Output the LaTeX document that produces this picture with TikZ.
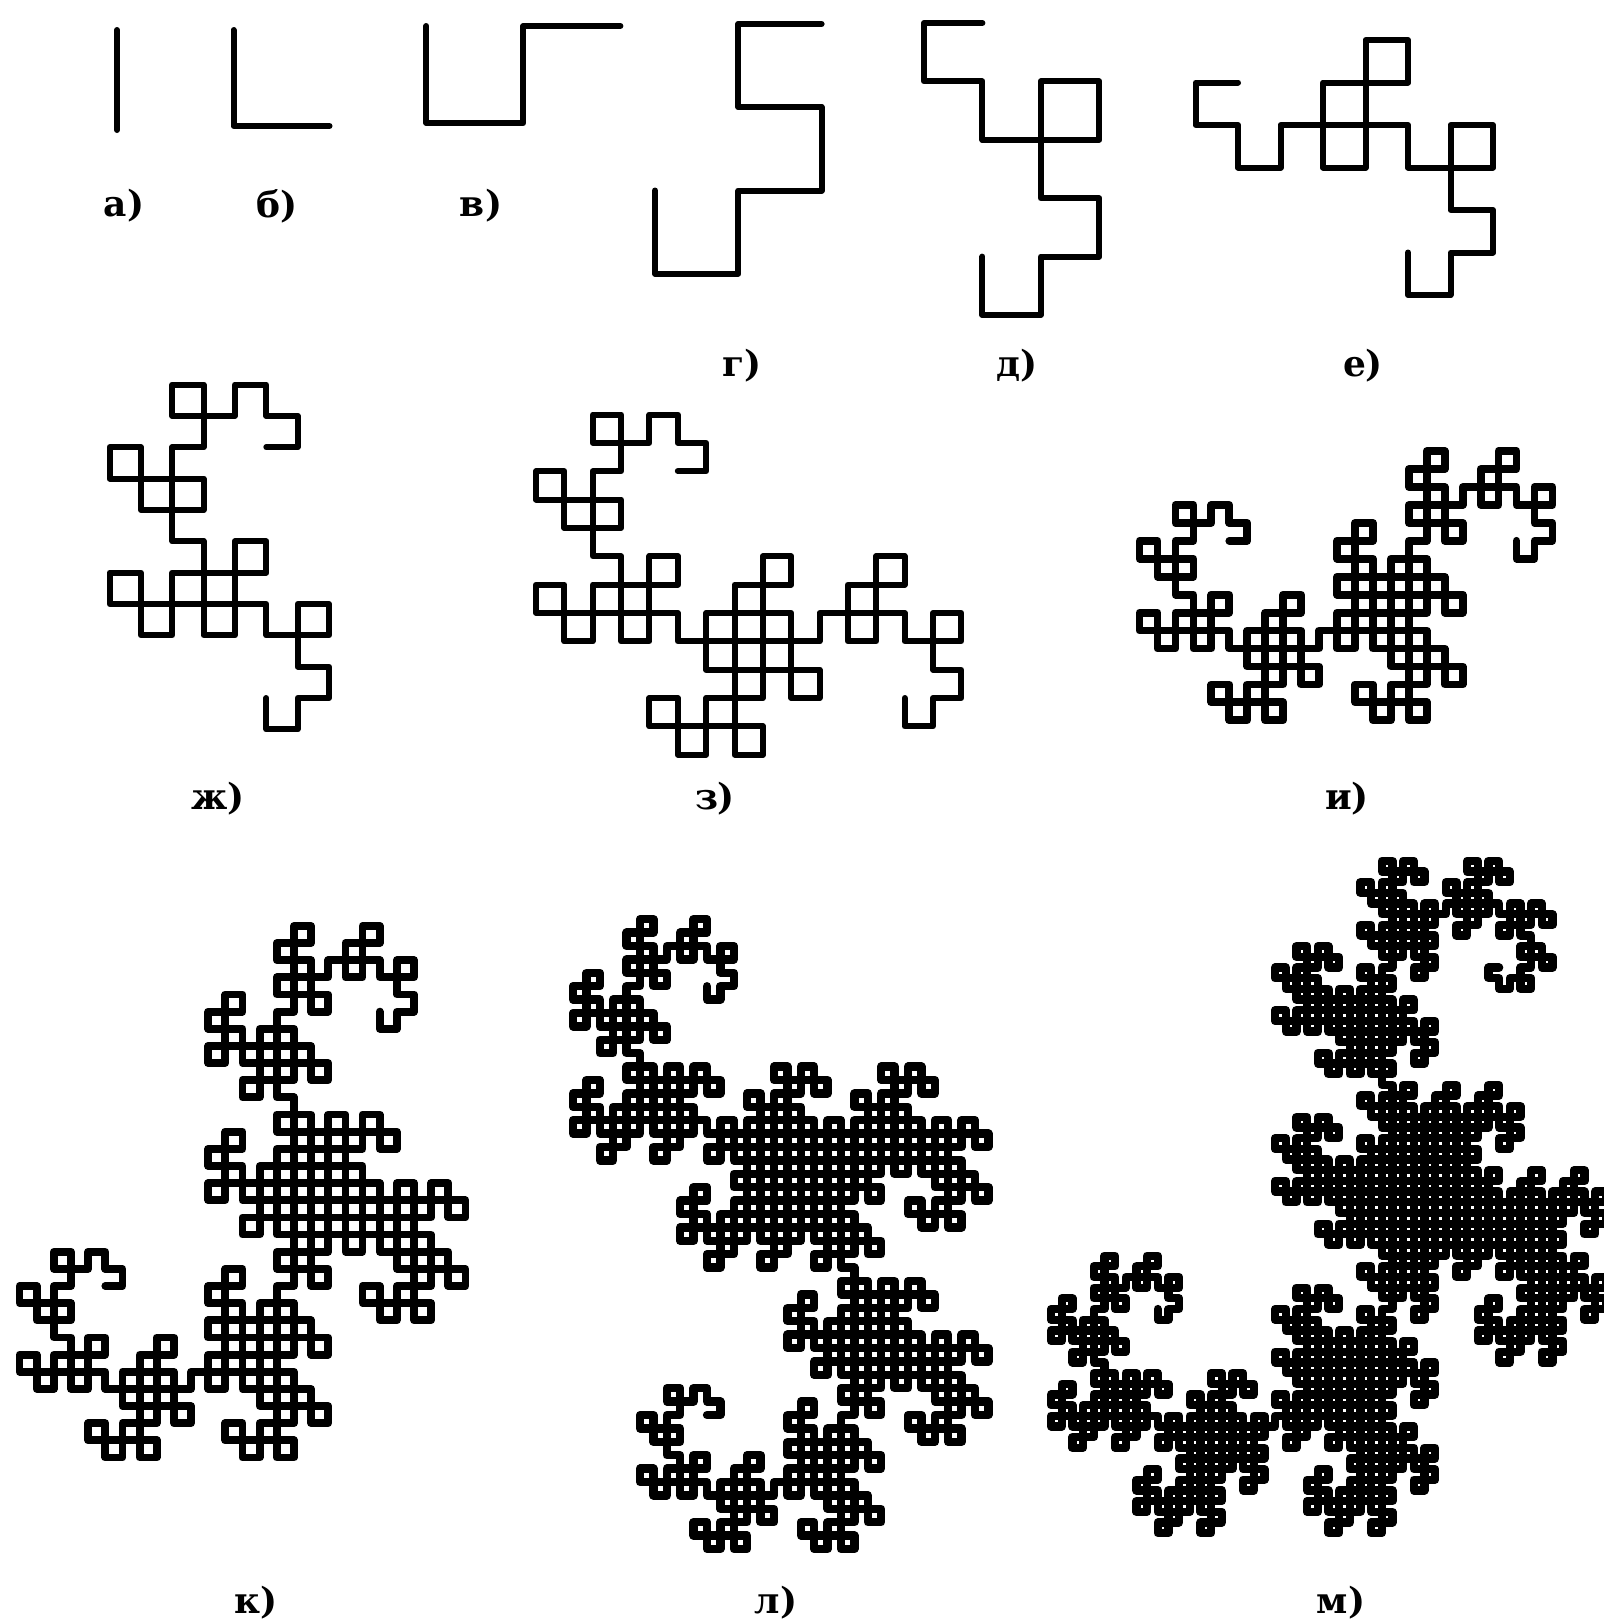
\documentclass[tikz,border=0pt]{standalone}
\usepackage{fontspec}
\newfontfamily\cyrserif{DejaVu Serif}
\usetikzlibrary{lindenmayersystems}

% Heighway dragon, "+" turns left
\pgfdeclarelindenmayersystem{Dragon}{
  \rule{X -> X+YF+}
  \rule{Y -> -FX-Y}
}

\begin{document}
\begin{tikzpicture}[
  x=0.5pt, y=-0.5pt,
  curve/.style={line width=3pt, line cap=round, line join=round},
  dense/.style={curve, line width=3.9pt},
  denser/.style={curve, line width=4.15pt},
  dragon/.style 2 args={l-system={Dragon, axiom=FX, order=#1,
                        step=#2, angle=90}},
  lbl/.style={font=\cyrserif\bfseries\fontsize{18}{20}\selectfont,
              inner sep=0pt}
]
\useasboundingbox (0,0) rectangle (1603,1623);

% ── Top row: orders 0--5, first step downwards ──
\draw[curve, shift={(117,30)},    rotate=-90, dragon={0}{50pt}]    (0,0) lindenmayer system;
\draw[curve, shift={(233.5,30)},  rotate=-90, dragon={1}{48pt}]    (0,0) lindenmayer system;
\draw[curve, shift={(426.4,26)},  rotate=-90, dragon={2}{48.5pt}]  (0,0) lindenmayer system;
\draw[curve, shift={(655,190.5)}, rotate=-90, dragon={3}{41.65pt}] (0,0) lindenmayer system;
\draw[curve, shift={(982.4,256.6)}, rotate=-90, dragon={4}{29.2pt}] (0,0) lindenmayer system;
\draw[curve, shift={(1408,252.5)}, rotate=-90, dragon={5}{21.25pt}] (0,0) lindenmayer system;

% ── Middle row: orders 6--8, first step to the right ──
\draw[curve, shift={(266.3,447.2)}, dragon={6}{15.675pt}] (0,0) lindenmayer system;
\draw[curve, shift={(677.8,471.2)}, dragon={7}{14.175pt}] (0,0) lindenmayer system;
\draw[dense, shift={(1229.3,540.8)}, dragon={8}{8.975pt}] (0,0) lindenmayer system;

% ── Bottom row: orders 9--11 ──
\draw[dense,  shift={(105.3,1286)}, dragon={9}{8.575pt}]  (0,0) lindenmayer system;
\draw[denser, shift={(707,1415)},   dragon={10}{6.7pt}]   (0,0) lindenmayer system;
\draw[denser, shift={(1157.7,1309)}, rotate=-90, dragon={11}{5.335pt}] (0,0) lindenmayer system;

% ── Labels ──
\node[lbl] (la) at (124,206)  {а)};
\node[lbl] (lb) at (277,206)  {б)};
\node[lbl] (lv) at (481,206)  {в)};
\node[lbl] (lg) at (742,366)  {г)};
\node[lbl] (ld) at (1017,366) {д)};
\node[lbl] (le) at (1363,366) {е)};
\node[lbl] (lzh) at (218,799) {ж)};
\node[lbl] (lz) at (715,799)  {з)};
\node[lbl] (li) at (1347,799) {и)};
\node[lbl] (lk) at (256,1603) {к)};
\node[lbl] (ll) at (776,1603) {л)};
\node[lbl] (lm) at (1341,1603) {м)};

\end{tikzpicture}
\end{document}
